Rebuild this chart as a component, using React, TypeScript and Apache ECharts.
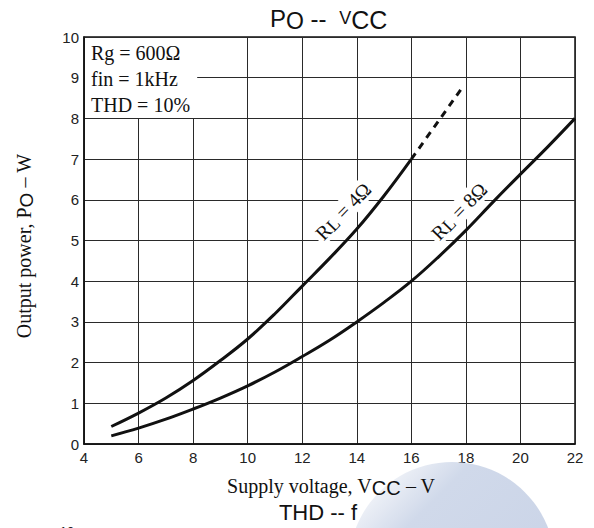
import React, { useEffect, useRef } from "react";
import * as echarts from "echarts";

// Supply voltage (V) and output power (W)
const vcc4 = [5, 6, 7, 8, 9, 10, 11, 12, 13, 14, 15, 16];
const po4 = [0.43, 0.76, 1.13, 1.56, 2.05, 2.58, 3.2, 3.88, 4.56, 5.28, 6.1, 7.0];
const vcc4Ext = [16, 17, 17.87];
const po4Ext = [7.0, 7.94, 8.76];
const vcc8 = [5, 6, 7, 8, 9, 10, 11, 12, 13, 14, 15, 16, 17, 18, 19, 20, 21, 22];
const po8 = [0.2, 0.39, 0.61, 0.86, 1.13, 1.43, 1.77, 2.15, 2.55, 3.0, 3.48, 4.0, 4.6, 5.25, 5.95, 6.63, 7.3, 8.0];
const conditions = ["Rg = 600Ω", "fin = 1kHz", "THD = 10%"];

const pairs = (xs: number[], ys: number[]) => xs.map((x, i) => [x, ys[i]]);

const SERIF = "'Liberation Serif', 'Times New Roman', serif";
const SANS = "'Liberation Sans', Arial, sans-serif";
const INK = "#111";

export default function App() {
  const ref = useRef<HTMLDivElement>(null);

  useEffect(() => {
    if (!ref.current) return;
    const chart = echarts.init(ref.current, undefined, { renderer: "svg" });

    const lineBase = {
      type: "line" as const,
      showSymbol: false,
      symbol: "none",
      smooth: 0.4,
      silent: true,
      z: 5,
    };

    chart.setOption({
      animation: false,
      backgroundColor: "#fff",
      grid: {
        left: 84,
        top: 37,
        right: 19,
        bottom: 84,
        show: true,
        borderColor: INK,
        borderWidth: 1.5,
        backgroundColor: "transparent",
      },
      xAxis: {
        type: "value",
        min: 4,
        max: 22,
        interval: 2,
        axisLine: { show: true, lineStyle: { color: INK, width: 1.5 } },
        axisTick: { show: false },
        splitLine: { show: true, lineStyle: { color: "#2a2a2a", width: 1 } },
        axisLabel: { fontSize: 15, color: "#222", fontFamily: SANS, margin: 6 },
      },
      yAxis: {
        type: "value",
        min: 0,
        max: 10,
        interval: 1,
        axisLine: { show: true, lineStyle: { color: INK, width: 1.5 } },
        axisTick: { show: false },
        splitLine: { show: true, lineStyle: { color: "#2a2a2a", width: 1 } },
        axisLabel: { fontSize: 15, color: "#222", fontFamily: SANS, margin: 5 },
      },
      series: [
        { ...lineBase, name: "RL=4Ω", data: pairs(vcc4, po4), lineStyle: { color: INK, width: 3 } },
        {
          ...lineBase,
          name: "RL=4Ω ext",
          smooth: false,
          data: pairs(vcc4Ext, po4Ext),
          lineStyle: { color: INK, width: 3, type: [7, 6] },
        },
        { ...lineBase, name: "RL=8Ω", data: pairs(vcc8, po8), lineStyle: { color: INK, width: 3 } },
      ],
    });

    const px = (x: number, y: number) => chart.convertToPixel({ gridIndex: 0 }, [x, y]) as number[];
    const boxTL = px(4, 10);
    const boxBR = px(8.15, 8);
    const lab4 = px(13.5, 5.72);
    const lab8 = px(17.75, 5.72);
    const rot = (46 * Math.PI) / 180;

    const curveLabel = (pos: number[], ohm: string) => ({
      type: "text",
      x: pos[0],
      y: pos[1],
      rotation: rot,
      z: 50,
      style: {
        text: `{a|R}{s|L}{a| = ${ohm}}`,
        align: "center",
        verticalAlign: "middle",
        backgroundColor: "#fff",
        padding: [0, 3],
        rich: {
          a: { fontSize: 20, fontFamily: SERIF, fill: INK, lineHeight: 22 },
          s: { fontSize: 18, fontFamily: SERIF, fill: INK, lineHeight: 12, verticalAlign: "bottom" },
        },
      },
    });

    chart.setOption({
      graphic: [
        {
          type: "circle",
          z: 1,
          shape: { cx: 452, cy: 565, r: 103 },
          style: {
            fill: {
              type: "linear",
              x: 0,
              y: 0,
              x2: 1,
              y2: 1,
              colorStops: [
                { offset: 0, color: "#dce2ee" },
                { offset: 0.14, color: "#eef1f7" },
                { offset: 0.3, color: "#d0d9ea" },
                { offset: 1, color: "#c7d1e6" },
              ],
            },
          },
        },
        {
          type: "rect",
          z: 20,
          shape: {
            x: boxTL[0] + 1,
            y: boxTL[1] + 1,
            width: boxBR[0] - boxTL[0] - 1,
            height: boxBR[1] - boxTL[1] - 1.5,
          },
          style: { fill: "#fff" },
        },
        ...conditions.map((t, i) => ({
          type: "text",
          z: 30,
          x: 91,
          y: 53 + i * 26,
          style: {
            text: t,
            fontSize: 20,
            fontFamily: SERIF,
            fill: INK,
            align: "left",
            verticalAlign: "middle",
          },
        })),
        curveLabel(lab4, "4Ω"),
        curveLabel(lab8, "8Ω"),
        {
          type: "text",
          z: 30,
          x: 270,
          y: 4,
          style: {
            text: "{n|P}{s|O}{n| -- }{v|V}{c|CC}",
            align: "left",
            verticalAlign: "top",
            rich: {
              n: { fontSize: 24, fontFamily: SANS, fill: INK, lineHeight: 28 },
              s: { fontSize: 23, fontFamily: SANS, fill: INK, lineHeight: 16, verticalAlign: "bottom" },
              v: { fontSize: 18, fontFamily: SANS, fill: INK, lineHeight: 28, padding: [0, 0, 0, 6] },
              c: { fontSize: 25, fontFamily: SANS, fill: INK, lineHeight: 16, verticalAlign: "bottom" },
            },
          },
        },
        {
          type: "text",
          z: 30,
          x: 24,
          y: 246,
          rotation: Math.PI / 2,
          style: {
            text: "{a|Output power, P}{s|O}{a| – W}",
            align: "center",
            verticalAlign: "middle",
            rich: {
              a: { fontSize: 20, fontFamily: SERIF, fill: INK, lineHeight: 24 },
              s: { fontSize: 19, fontFamily: SANS, fill: INK, lineHeight: 12, verticalAlign: "bottom" },
            },
          },
        },
        {
          type: "text",
          z: 30,
          x: 331,
          y: 486,
          style: {
            text: "{a|Supply voltage, V}{s|CC}{a| – V}",
            align: "center",
            verticalAlign: "middle",
            rich: {
              a: { fontSize: 20, fontFamily: SERIF, fill: INK, lineHeight: 24 },
              s: { fontSize: 20, fontFamily: SANS, fill: INK, lineHeight: 12, verticalAlign: "bottom" },
            },
          },
        },
        {
          type: "text",
          z: 30,
          x: 318,
          y: 512,
          style: {
            text: "THD -- f",
            fontSize: 22,
            fontFamily: SANS,
            fill: INK,
            align: "center",
            verticalAlign: "middle",
          },
        },
        {
          type: "text",
          z: 30,
          x: 67,
          y: 531,
          style: {
            text: "10",
            fontSize: 13,
            fontFamily: SANS,
            fill: "#222",
            align: "center",
            verticalAlign: "middle",
          },
        },
      ],
    });

    return () => chart.dispose();
  }, []);

  return (
    <div
      ref={ref}
      style={{ position: "fixed", left: 0, top: 0, width: 594, height: 528, background: "#fff" }}
    />
  );
}
